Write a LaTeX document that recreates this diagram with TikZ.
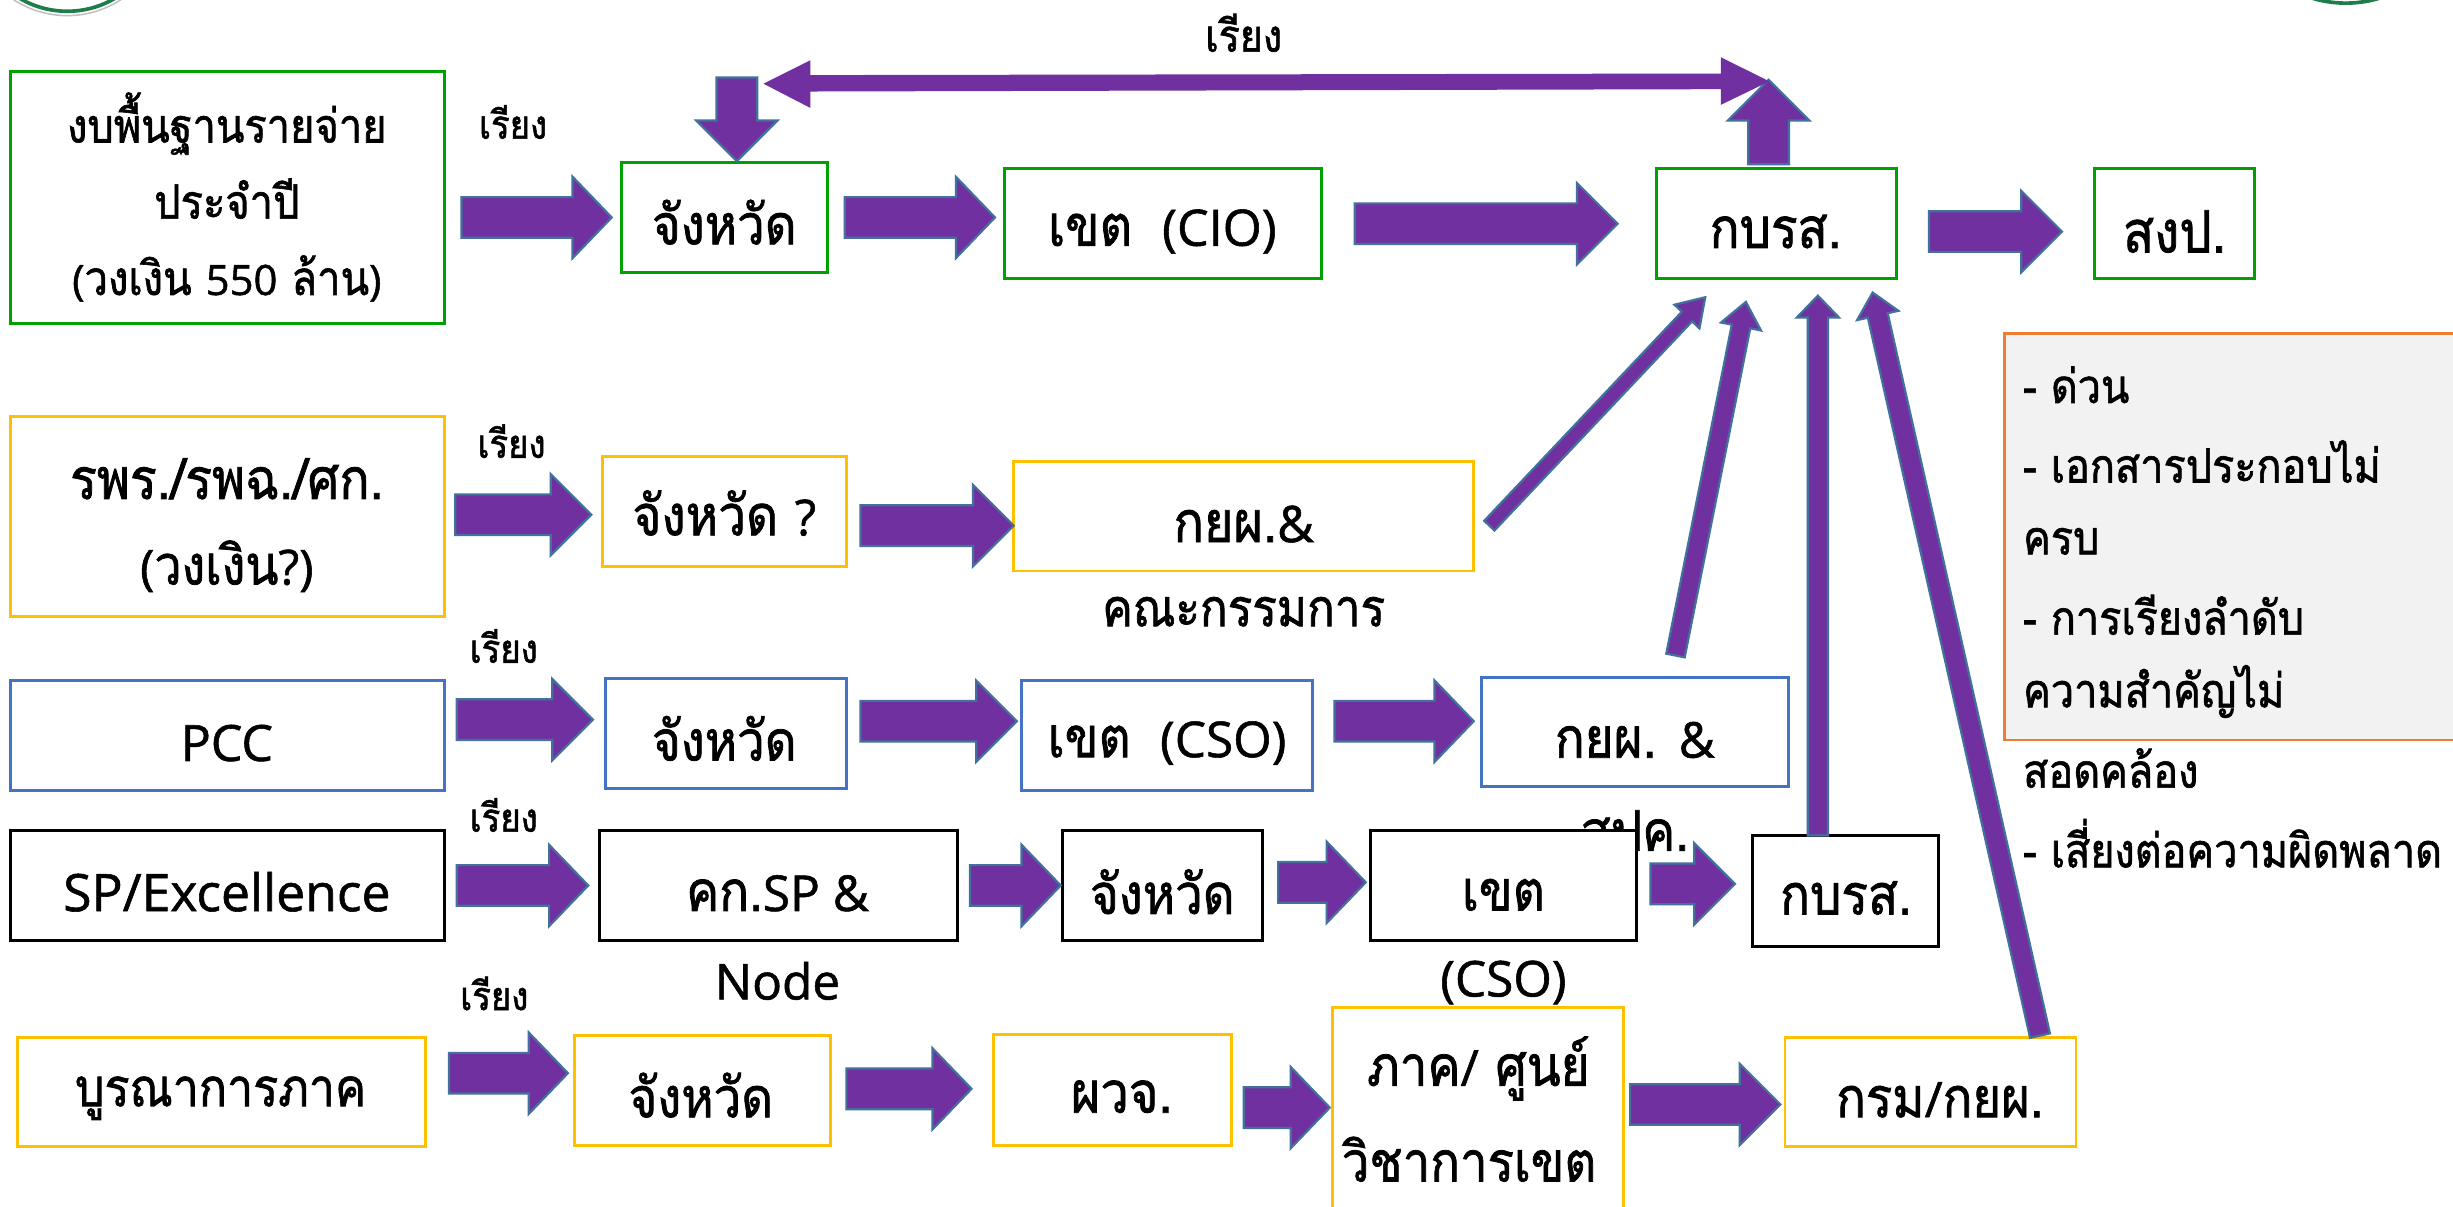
\documentclass[tikz,border=0pt]{standalone}
\usepackage{fontspec}
\setmainfont[FakeBold=1.1]{Open Sans}
\newfontfamily\thaifont[Script=Thai,FakeBold=1.3,Scale=1.136,FakeStretch=0.88]{Loma}
\newcommand{\lat}[1]{{\normalfont #1}}
\definecolor{arrowfill}{HTML}{7030A0}
\definecolor{arrowline}{HTML}{41719C}
\definecolor{boxgreen}{HTML}{00A000}
\definecolor{boxyellow}{HTML}{FFC000}
\definecolor{boxblue}{HTML}{4472C4}
\definecolor{boxorange}{HTML}{ED7D31}
\definecolor{boxgray}{HTML}{F2F2F2}
\definecolor{logogreen}{HTML}{1E7D4A}
\tikzset{
  x=0.03cm,y=-0.03cm,
  lbl/.style={inner sep=0pt,font=\fontsize{#1}{30}\selectfont\thaifont,text=black},
  lbl/.default=27,
  notelbl/.style={inner sep=0pt,anchor=west,font=\fontsize{22.6}{26}\selectfont\thaifont,text=black},
  blockarrow/.style={fill=arrowfill,draw=arrowline,line width=1.2pt,line join=miter},
}
% box: name, x1, y1, x2, y2, colour
\newcommand{\bx}[6]{%
  \pgfmathsetmacro{\bxw}{(#4-#2)*0.03}\pgfmathsetmacro{\bxh}{(#5-#3)*0.03}%
  \pgfmathsetmacro{\bxx}{(#2+#4)/2}\pgfmathsetmacro{\bxy}{(#3+#5)/2}%
  \node[draw=#6,fill=white,line width=1.6pt,inner sep=0pt,minimum width=\bxw cm,minimum height=\bxh cm] (#1) at (\bxx,\bxy) {};}
% block arrow: name, x1,y1, x2,y2, shaft half, head half, head length, style
\newcommand{\ba}[9]{%
  \coordinate (#1s) at (#2,#3);\coordinate (#1t) at (#4,#5);%
  \pgfmathsetmacro{\adx}{#4-#2}\pgfmathsetmacro{\ady}{#5-#3}%
  \pgfmathsetmacro{\alen}{veclen(\adx,\ady)}%
  \pgfmathsetmacro{\aux}{\adx/\alen}\pgfmathsetmacro{\auy}{\ady/\alen}%
  \pgfmathsetmacro{\abx}{#4-\aux*#8}\pgfmathsetmacro{\aby}{#5-\auy*#8}%
  \draw[#9] (#2-\auy*#6,#3+\aux*#6) -- (\abx-\auy*#6,\aby+\aux*#6) -- (\abx-\auy*#7,\aby+\aux*#7)
    -- (#1t) -- (\abx+\auy*#7,\aby-\aux*#7) -- (\abx+\auy*#6,\aby-\aux*#6) -- (#2+\auy*#6,#3-\aux*#6) -- cycle;}
\begin{document}
\begin{tikzpicture}
\useasboundingbox (0,0) rectangle (1568,770.9);
\fill[white] (0,0) rectangle (1568,770.9);
\begin{scope}
\clip (0,0) rectangle (1568,770.9);
% logo slivers
\draw[color=black!25,line width=0.8pt] (43,-52.8) circle[radius=62.8];
\draw[color=logogreen,line width=2pt] (43,-52.8) circle[radius=60];
\draw[color=logogreen,line width=2pt] (1499.5,-72) circle[radius=74];
% row 1 boxes
\bx{b1}{7}{46}{284}{207}{boxgreen}
\bx{b2}{397}{104}{529}{174}{boxgreen}
\bx{b3}{642}{108}{845}{178}{boxgreen}
\bx{b4}{1059}{108}{1212}{178}{boxgreen}
\bx{b5}{1339}{108}{1441}{178}{boxgreen}
% note
\draw[draw=boxorange,fill=boxgray,line width=1.6pt] (1281,213) rectangle (1600,473);
% row 2
\bx{c1}{7}{266}{284}{394}{boxyellow}
\bx{c2}{385}{292}{541}{362}{boxyellow}
\bx{c3}{648}{295}{942}{365}{boxyellow}
% row 3
\bx{d1}{7}{435}{284}{505}{boxblue}
\bx{d2}{387}{434}{541}{504}{boxblue}
\bx{d3}{653}{435}{839}{505}{boxblue}
\bx{d4}{947}{433}{1143}{503}{boxblue}
\node[lbl] (t-spk) at (1045,531) {สปค.};
% row 4
\bx{e1}{7}{531}{284}{601}{black}
\bx{e2}{383}{531}{612}{601}{black}
\bx{e3}{679}{531}{807}{601}{black}
\bx{e4}{876}{531}{1046}{601}{black}
\bx{e5}{1120}{534}{1239}{605}{black}
% row 5
\bx{f1}{11}{663}{272}{733}{boxyellow}
\bx{f2}{367}{662}{531}{732}{boxyellow}
\bx{f3}{635}{661}{787}{732}{boxyellow}
\bx{f4}{852}{644}{1038}{800}{boxyellow}
\bx{f5}{1141}{663}{1327}{733}{boxyellow}
\end{scope}
% arrows
\ba{a1}{295}{139}{391}{139}{13}{26}{25}{blockarrow}
\ba{a2}{540}{139}{636}{139}{13}{26}{25}{blockarrow}
\ba{a3}{866}{143}{1034}{143}{13}{26}{26}{blockarrow}
\ba{a4}{1233}{148}{1318}{148}{13}{26}{26}{blockarrow}
\ba{a5}{291}{329}{378}{329}{13}{26}{26}{blockarrow}
\ba{a6}{550}{336}{648}{336}{13}{26}{26}{blockarrow}
\ba{a7}{292}{460}{379}{460}{13}{26}{26}{blockarrow}
\ba{a8}{550}{461}{650}{461}{13}{26}{26}{blockarrow}
\ba{a9}{853}{461}{942}{461}{13}{26}{25}{blockarrow}
\ba{a10}{292}{566}{376}{566}{13}{26}{25}{blockarrow}
\ba{a11}{620}{566}{678}{566}{13}{26}{25}{blockarrow}
\ba{a12}{817}{564}{873}{564}{13}{26}{25}{blockarrow}
\ba{a13}{1055}{565}{1109}{565}{13}{26}{26}{blockarrow}
\ba{a14}{287}{686}{363}{686}{13}{26}{25}{blockarrow}
\ba{a15}{541}{696}{621}{696}{13}{26}{25}{blockarrow}
\ba{a16}{795}{708}{850}{708}{13}{26}{25}{blockarrow}
\ba{a17}{1042}{706}{1138}{706}{13}{26}{26}{blockarrow}
\ba{adown}{471}{49.5}{471}{103}{13}{26}{26}{blockarrow}
\ba{aup}{1130.5}{105}{1130.5}{51}{13}{26}{26}{blockarrow}
% double arrow
\coordinate (dbl-l) at (488,53.5);\coordinate (dbl-r) at (1131,52);
\fill[arrowfill] (dbl-l) -- (518,38.5) -- (518,48) -- (1100,47) -- (1100,36.6) -- (dbl-r) -- (1100,67) -- (1100,57) -- (518,58.5) -- (518,69) -- cycle;
% thin arrows to the top right box
\ba{g1}{952}{336}{1090}{190}{4.5}{11}{17}{blockarrow}
\ba{g2}{1071}{419}{1116}{193}{6}{13}{16}{blockarrow}
\ba{g3}{1162}{534}{1162}{189}{6.5}{13.5}{14}{blockarrow}
\ba{g4}{1304}{662}{1197}{187}{6.5}{13.5}{15}{blockarrow}
% texts
\node[lbl=22.7] (t11) at (145,79) {งบพื้นฐานรายจ่าย};
\node[lbl=22.7] (t12) at (145,127) {ประจำปี};
\node[lbl=22.8] (t13) at (145,178) {\lat{(}วงเงิน \lat{550} ล้าน\lat{)}};
\node[lbl=26.8] (t2) at (463,142) {จังหวัด};
\node[lbl=27.4] (t3) at (743,148) {เขต \lat{ (CIO)}};
\node[lbl] (t4) at (1135,148) {กบรส.};
\node[lbl=28] (t5) at (1390,148) {สงป.};
\node[lbl=27.3] (u11) at (145,306) {รพร./รพฉ./ศก.};
\node[lbl=26.4] (u12) at (145,362) {\lat{(}วงเงิน\lat{?)}};
\node[lbl=27] (u2) at (463,328) {จังหวัด \lat{?}};
\node[lbl=27.5] (u3) at (795,335) {กยผ.\lat{\&}};
\node[lbl=25] (u4) at (795,391) {คณะกรรมการ};
\node[lbl=27.3] (v1) at (145,475) {\lat{PCC}};
\node[lbl=26.8] (v2) at (463,472) {จังหวัด};
\node[lbl=27] (v3) at (746,475) {เขต \lat{ (CSO)}};
\node[lbl=27] (v4) at (1045,473) {กยผ. \lat{\&}};
\node[lbl=28.2] (w1) at (145,570) {\lat{SP/Excellence}};
\node[lbl=27] (w2) at (497,571) {คก.\lat{SP \&}};
\node[lbl=27] (w2b) at (497,627) {\lat{Node}};
\node[lbl=26.8] (w3) at (743,570) {จังหวัด};
\node[lbl=27] (w4) at (961,572) {เขต};
\node[lbl=27] (w4b) at (961,628) {\lat{(CSO)}};
\node[lbl] (w5) at (1180,574) {กบรส.};
\node[lbl=25.4] (x1) at (141,702) {บูรณาการภาค};
\node[lbl=26.8] (x2) at (448,700) {จังหวัด};
\node[lbl=27.6] (x3) at (717,701) {ผวจ.};
\node[lbl=27] (x4) at (945,683) {ภาค\lat{/} ศูนย์};
\node[lbl=26.8] (x4b) at (939,741) {วิชาการเขต};
\node[lbl=26.8] (x5) at (1240,703) {กรม\lat{/}กยผ.};
\node[lbl=21.5] (r0) at (795,21) {เรียง};
\node[lbl=19] (r1) at (328,78) {เรียง};
\node[lbl=19] (r2) at (327,282) {เรียง};
\node[lbl=19] (r3) at (322,413) {เรียง};
\node[lbl=19] (r4) at (322,521) {เรียง};
\node[lbl=19] (r5) at (316,635) {เรียง};
\node[notelbl] (n1) at (1293,246) {- ด่วน};
\node[notelbl] (n2) at (1293,295) {- เอกสารประกอบไม่};
\node[notelbl] (n3) at (1293,346) {ครบ};
\node[notelbl] (n4) at (1293,393) {- การเรียงลำดับ};
\node[notelbl] (n5) at (1293,442) {ความสำคัญไม่};
\node[notelbl] (n6) at (1293,491) {สอดคล้อง};
\node[notelbl] (n7) at (1293,539) {- เสี่ยงต่อความผิดพลาด};
\end{tikzpicture}
\end{document}
